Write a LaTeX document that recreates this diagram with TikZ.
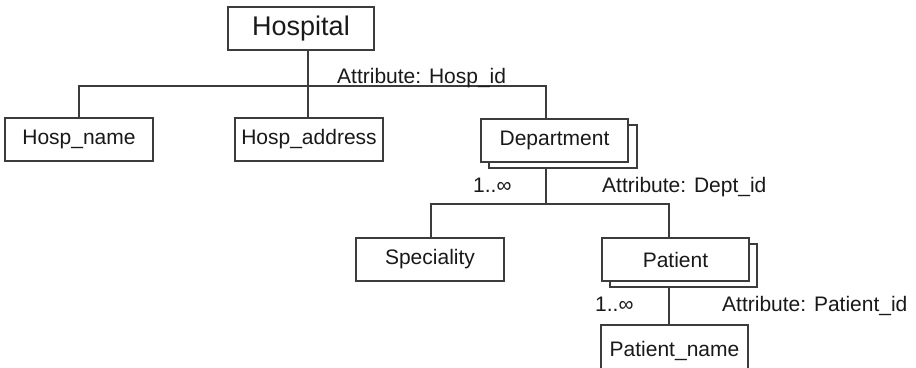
\documentclass[tikz,border=0pt]{standalone}
\usepackage{fontspec}
\setmainfont{Liberation Sans}
\definecolor{linec}{RGB}{60,60,60}
\definecolor{textc}{RGB}{25,25,25}
\begin{document}
\begin{tikzpicture}[x=1pt,y=-1pt,
  ent/.style={draw=linec,line width=1.3pt,fill=white,rectangle,inner sep=0pt,
    minimum width=147pt,minimum height=43pt,text=textc,font=\fontsize{21}{25}\selectfont},
  big/.style={font=\fontsize{27}{32}\selectfont},
  shadowbox/.style={draw=linec,line width=1.3pt,fill=white},
  conn/.style={draw=linec,line width=1.3pt},
  lbl/.style={inner sep=0pt,anchor=base west,text=textc,font=\fontsize{21}{25}\selectfont}]
\useasboundingbox (0,0) rectangle (916,367);
\begin{scope}
\clip (0,0) rectangle (916,367);
% Hospital
\node[ent,big,minimum width=146pt] (hosp) at (301,28.5) {Hospital};
\node[ent,minimum width=148pt] (hname) at (79,139.5) {Hosp\_name};
\node[ent,minimum width=148pt] (haddr) at (309,139.5) {Hosp\_address};
% Department with shadow
\draw[shadowbox] (489,125) rectangle (637,168);
\node[ent] (dept) at (554.5,140.5) {Department};
\coordinate (deptsh) at (546,168);
% Speciality and Patient
\node[ent,minimum width=148pt] (spec) at (430,259.5) {Speciality};
\draw[shadowbox] (610,244) rectangle (757,287);
\node[ent] (pat) at (675.5,259.5) {Patient};
\coordinate (patsh) at (669,287);
\node[ent,minimum height=52pt] (pname) at (674.5,351) {\raisebox{5pt}{Patient\_name}};
\end{scope}
% connectors: level 1
\coordinate (hb) at (308,86);
\coordinate (hl) at (79,86);
\coordinate (hr) at (546,86);
\draw[conn] (hosp.south -| hb) -- (hb);
\draw[conn] (hname.north) -- (hl) -- (hr) -- (hr |- dept.north);
\draw[conn] (hb) -- (hb |- haddr.north);
% level 2
\coordinate (db) at (546,204);
\coordinate (dl) at (431,204);
\coordinate (dr) at (669,204);
\draw[conn] (deptsh) -- (db);
\draw[conn] (dl |- spec.north) -- (dl) -- (dr) -- (dr |- pat.north);
% level 3
\draw[conn] (patsh) -- (patsh |- pname.north);
% labels
\node[lbl] (a1) at (337,83) {Attribute: Hosp\_id};
\node[lbl] (m1) at (473,192) {1..∞};
\node[lbl] (a2) at (602,192) {Attribute: Dept\_id};
\node[lbl] (m2) at (595,311) {1..∞};
\node[lbl] (a3) at (722,311) {Attribute: Patient\_id};
\end{tikzpicture}
\end{document}
